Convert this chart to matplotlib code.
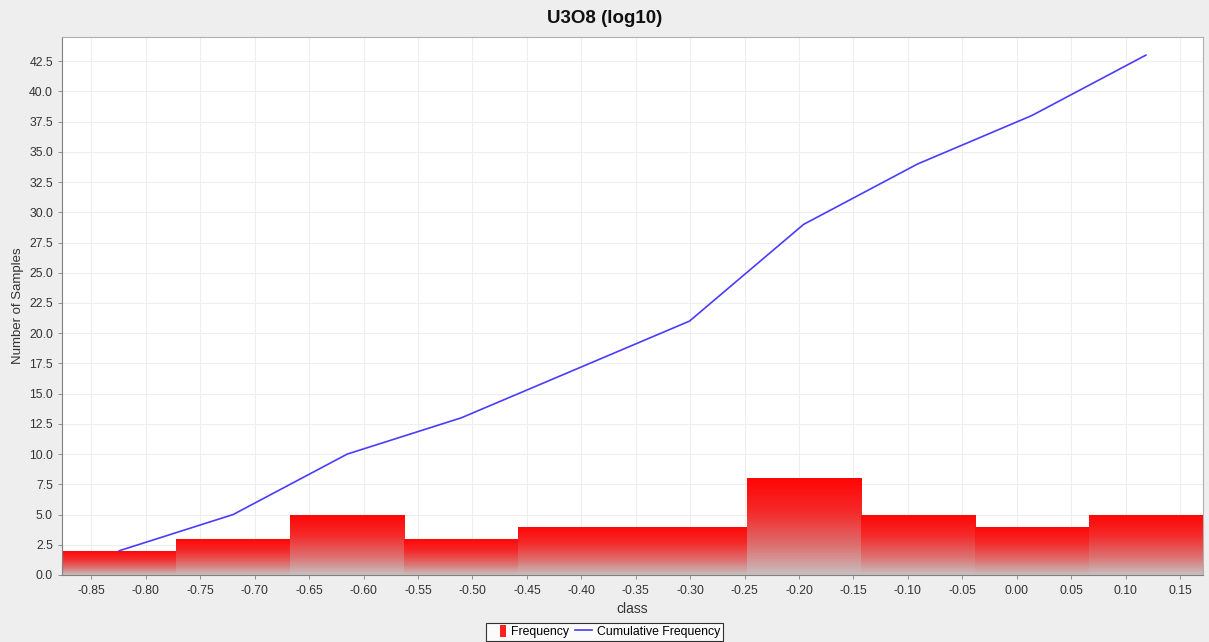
import numpy as np
import matplotlib
matplotlib.use("Agg")
import matplotlib.pyplot as plt
from matplotlib.colors import LinearSegmentedColormap
from matplotlib.patches import Patch
from matplotlib.lines import Line2D

plt.rcParams["font.family"] = ["Liberation Sans", "DejaVu Sans"]

# histogram of log10(U3O8): 10 equal bins between data min and max
bin_edges = [-0.877, -0.7722, -0.6674, -0.5626, -0.4578, -0.353,
             -0.2482, -0.1434, -0.0386, 0.0662, 0.171]
frequency = [2, 3, 5, 3, 4, 4, 8, 5, 4, 5]
cumulative = [2, 5, 10, 13, 17, 21, 29, 34, 38, 43]

x_ticks = [-0.85, -0.80, -0.75, -0.70, -0.65, -0.60, -0.55, -0.50, -0.45, -0.40,
           -0.35, -0.30, -0.25, -0.20, -0.15, -0.10, -0.05, 0.00, 0.05, 0.10, 0.15]
y_ticks = [0.0, 2.5, 5.0, 7.5, 10.0, 12.5, 15.0, 17.5, 20.0, 22.5, 25.0,
           27.5, 30.0, 32.5, 35.0, 37.5, 40.0, 42.5]

BG = "#eeeeee"
GRID = "#eeeeee"
LINE = "#4a3cff"

grad = LinearSegmentedColormap.from_list(
    "bar", [(0.0, "#c8c0c0"), (0.3, "#dd7070"), (0.65, "#f52a2a"), (1.0, "#ff0505")])


def main():
    edges = np.array(bin_edges)
    left = edges[:-1]
    width = np.diff(edges)
    centers = left + width / 2

    fig = plt.figure(figsize=(12.09, 6.42), dpi=100, facecolor=BG)
    ax = fig.add_axes([0.0513, 0.1044, 0.9437, 0.838])
    ax.set_facecolor("white")

    ax.set_xticks(x_ticks)
    ax.set_xticklabels([f"{v:.2f}" for v in x_ticks])
    ax.set_yticks(y_ticks)
    ax.set_yticklabels([f"{v:.1f}" for v in y_ticks])
    ax.grid(True, color=GRID, linewidth=0.8)
    ax.set_axisbelow(True)

    bars = ax.bar(left, frequency, width=width, align="edge",
                  color="none", edgecolor="none", linewidth=0, zorder=2)
    # vertical red -> grey gradient inside each bar
    g = np.linspace(0, 1, 256).reshape(-1, 1)
    for b, h in zip(bars, frequency):
        x0 = b.get_x()
        im = ax.imshow(g, cmap=grad, origin="lower", aspect="auto",
                       extent=(x0, x0 + b.get_width(), 0, h), zorder=2,
                       interpolation="bilinear")
        im.set_clip_path(b)

    ax.plot(centers, cumulative, color=LINE, linewidth=1.2, zorder=3)

    ax.set_xlim(edges[0], edges[-1])
    ax.set_ylim(0, 44.5)

    for s in ax.spines.values():
        s.set_color("#b0b0b0")
        s.set_linewidth(0.8)
    ax.spines["left"].set_color("#808080")
    ax.spines["bottom"].set_color("#808080")
    ax.tick_params(axis="both", labelsize=8.8, colors="#808080", labelcolor="#333333",
                   length=3, width=0.6)
    ax.tick_params(axis="x", pad=4)

    ax.set_xlabel("class", fontsize=10, color="#333333", labelpad=4)
    ax.set_ylabel("Number of Samples", fontsize=9.5, color="#333333", labelpad=4)
    fig.text(0.5, 0.971, "U3O8 (log10)", ha="center", va="center",
             fontsize=13.5, fontweight="bold", color="#111111")

    handles = [Patch(facecolor="#ff2020", edgecolor="none"),
               Line2D([0], [0], color=LINE, linewidth=1.2)]
    leg = fig.legend(handles, ["Frequency", "Cumulative Frequency"],
                     loc="center", bbox_to_anchor=(0.5, 0.016), ncol=2,
                     fontsize=8.8, frameon=True, fancybox=False,
                     handlelength=1.4, handletextpad=0.4, columnspacing=0.5,
                     borderpad=0.25, borderaxespad=0)
    leg.get_frame().set_edgecolor("black")
    leg.get_frame().set_linewidth(0.8)
    leg.get_frame().set_facecolor("white")
    # narrow red marker next to the text, like the reference
    p = leg.legend_handles[0]
    p.set_x(1.4 * 8.8 - 4.5)
    p.set_width(4.5)
    p.set_y(-1.5)
    p.set_height(8.5)

    fig.savefig("out.png", dpi=100, facecolor=BG)
    plt.close(fig)


if __name__ == "__main__":
    main()
